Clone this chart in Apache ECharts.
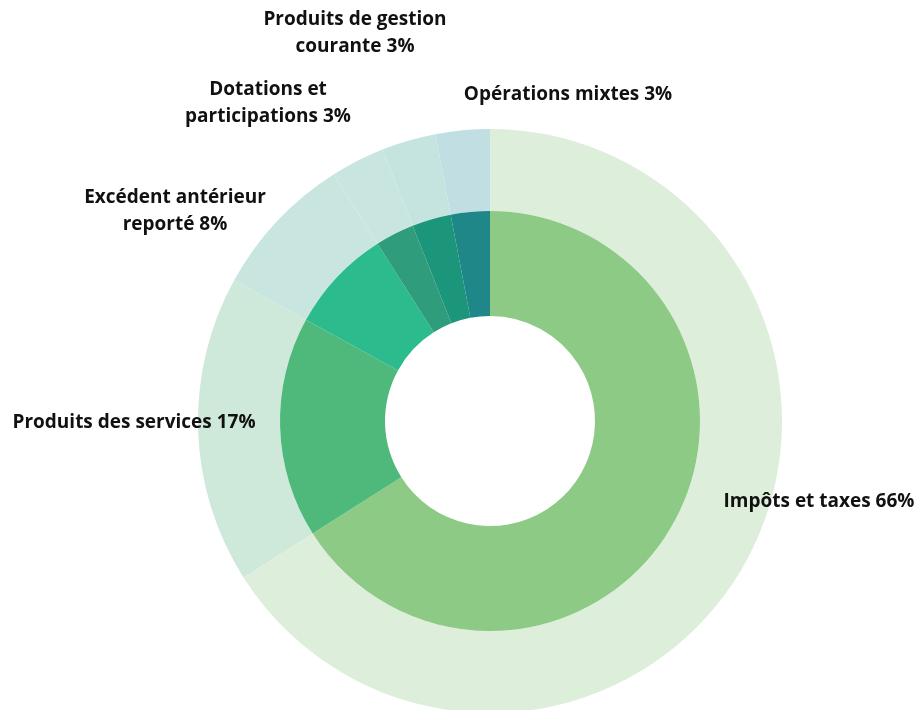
<!DOCTYPE html>
<html>
<head>
<meta charset="utf-8">
<script src="https://cdn.jsdelivr.net/npm/echarts@6/dist/echarts.min.js"></script>
<style>
html,body{margin:0;padding:0;background:#fff;}
#chart{width:920px;height:710px;}
</style>
</head>
<body>
<div id="chart"></div>
<script>
const categories = ["Impôts et taxes", "Produits des services", "Excédent antérieur reporté", "Dotations et participations", "Produits de gestion courante", "Opérations mixtes"];
const labelTexts = ["Impôts et taxes 66%", "Produits des services 17%", "Excédent antérieur\nreporté 8%", "Dotations et\nparticipations 3%", "Produits de gestion\ncourante 3%", "Opérations mixtes 3%"];
const values = [66, 17, 8, 3, 3, 3];

const innerColors = ["#8dca85", "#4fb97b", "#2bbb8c", "#2f9c7b", "#1c967b", "#1f8788"];
const outerColors = ["#ddeedb", "#cee8da", "#c8e6df", "#c8e6df", "#c5e4e0", "#c1dfe2"];
const labelPos = [[819, 502], [134, 423], [175, 211], [268, 103], [355, 33], [568, 95]];

const chart = echarts.init(document.getElementById('chart'), null, {renderer: 'canvas'});
const center = [490, 421];

chart.setOption({
  animation: false,
  series: [
    {
      type: 'pie',
      center: center,
      radius: [210, 292],
      startAngle: 90,
      clockwise: true,
      silent: true,
      data: categories.map((c, i) => ({name: c, value: values[i], itemStyle: {color: outerColors[i]}})),
      label: {
        show: true,
        position: 'outside',
        formatter: p => labelTexts[p.dataIndex],
        fontFamily: 'Open Sans',
        fontWeight: 'bold',
        fontSize: 19,
        lineHeight: 27,
        color: '#111',
        align: 'center',
        overflow: 'none',
        width: 400
      },
      labelLine: {show: false},
      labelLayout: p => ({
        x: labelPos[p.dataIndex][0],
        y: labelPos[p.dataIndex][1],
        align: 'center',
        verticalAlign: 'middle'
      })
    },
    {
      type: 'pie',
      center: center,
      radius: [105, 210],
      startAngle: 90,
      clockwise: true,
      silent: true,
      data: categories.map((c, i) => ({name: c, value: values[i], itemStyle: {color: innerColors[i]}})),
      label: {show: false},
      labelLine: {show: false}
    }
  ]
});
</script>
</body>
</html>
